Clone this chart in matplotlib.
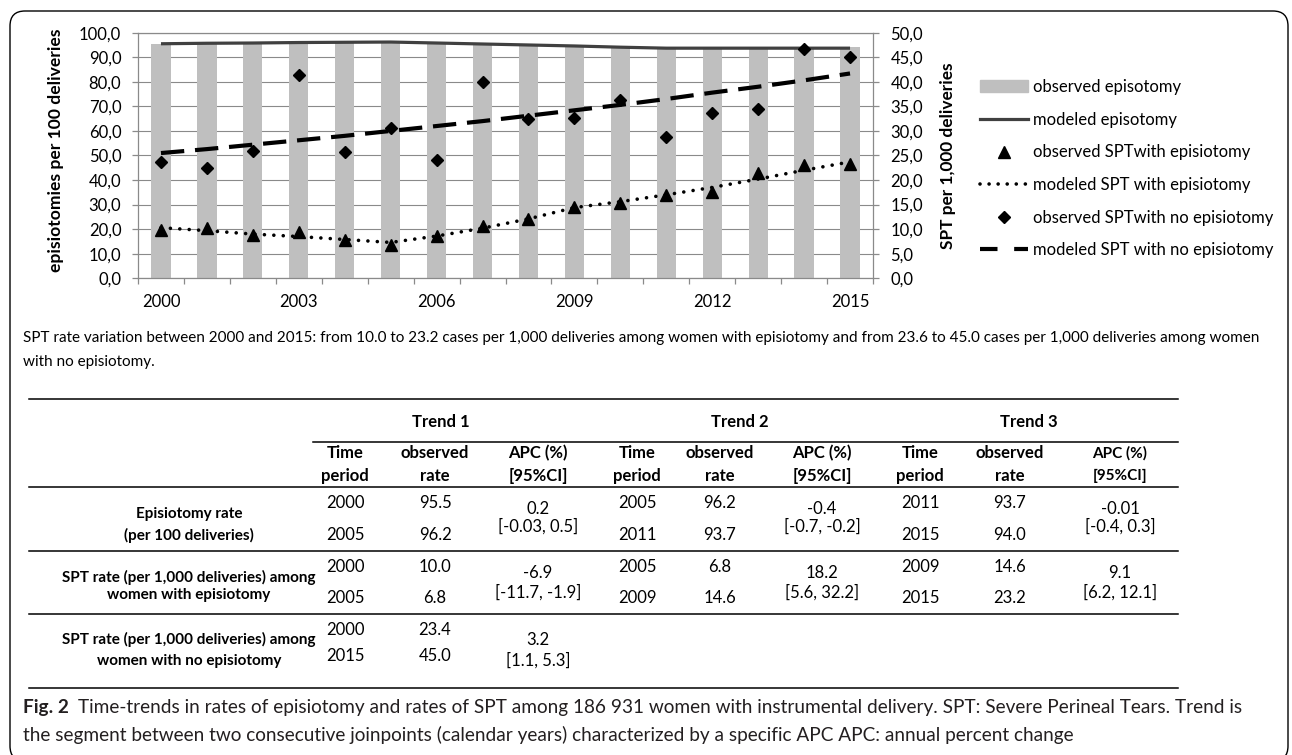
import matplotlib

matplotlib.use("Agg")
import matplotlib.pyplot as plt
from matplotlib.lines import Line2D
from matplotlib.patches import Patch, FancyBboxPatch
from matplotlib.transforms import IdentityTransform
import numpy as np

W, H = 1292, 755
plt.rcParams["font.family"] = ["Lato", "DejaVu Sans"]

# ---- chart data ----
years = list(range(2000, 2016))
observed_epi = [95.5, 95.6, 95.8, 95.9, 96.0, 96.2, 95.7, 95.3, 95.0, 94.6, 94.1, 93.7, 93.8, 93.8, 93.9, 94.2]
modeled_epi = [95.5, 95.7, 95.8, 96.0, 96.1, 96.2, 95.8, 95.4, 95.0, 94.6, 94.1, 93.7, 93.7, 93.7, 93.7, 93.7]
obs_spt_epi = [9.8, 10.2, 8.8, 9.4, 7.7, 6.8, 8.7, 10.6, 12.0, 14.6, 15.3, 17.0, 17.6, 21.4, 23.1, 23.2]
mod_spt_epi = [10.3, 9.7, 9.0, 8.5, 7.9, 7.3, 8.6, 10.2, 12.1, 14.4, 15.6, 17.0, 18.5, 20.2, 22.0, 23.7]
obs_spt_noepi = [23.6, 22.4, 26.0, 41.4, 25.8, 30.7, 24.1, 40.0, 32.4, 32.7, 36.4, 28.8, 33.6, 34.4, 46.6, 45.0]
mod_spt_noepi = [25.5, 26.3, 27.2, 28.1, 29.0, 30.0, 31.0, 32.0, 33.1, 34.2, 35.3, 36.5, 37.8, 39.0, 40.3, 41.7]
year_labels = ["2000", "2003", "2006", "2009", "2012", "2015"]

legend_labels = ["observed episotomy", "modeled episotomy", "observed SPTwith episiotomy",
                 "modeled SPT with episiotomy", "observed SPTwith no episiotomy",
                 "modeled SPT with no episiotomy"]

# ---- table data ----
trend_names = ["Trend 1", "Trend 2", "Trend 3"]
row_labels = [("Episiotomy rate", "(per 100 deliveries)"),
              ("SPT rate (per 1,000 deliveries) among", "women with episiotomy"),
              ("SPT rate (per 1,000 deliveries) among", "women with no episiotomy")]
# per row: list of (period start, period end, rate start, rate end, APC, CI)
table_rows = [
    [("2000", "2005", "95.5", "96.2", "0.2", "[-0.03, 0.5]"),
     ("2005", "2011", "96.2", "93.7", "-0.4", "[-0.7, -0.2]"),
     ("2011", "2015", "93.7", "94.0", "-0.01", "[-0.4, 0.3]")],
    [("2000", "2005", "10.0", "6.8", "-6.9", "[-11.7, -1.9]"),
     ("2005", "2009", "6.8", "14.6", "18.2", "[5.6, 32.2]"),
     ("2009", "2015", "14.6", "23.2", "9.1", "[6.2, 12.1]")],
    [("2000", "2015", "23.4", "45.0", "3.2", "[1.1, 5.3]")],
]

note_lines = ["SPT rate variation between 2000 and 2015: from 10.0 to 23.2 cases per 1,000 deliveries among women "
              "with episiotomy and from 23.6 to 45.0 cases per 1,000 deliveries among women",
              "with no episiotomy."]
caption_bold = "Fig. 2"
caption_lines = ["Time-trends in rates of episiotomy and rates of SPT among 186 931 women with instrumental delivery. "
                 "SPT: Severe Perineal Tears. Trend is",
                 "the segment between two consecutive joinpoints (calendar years) characterized by a specific APC "
                 "APC: annual percent change"]

GRID = "#8a8a8a"
BAR = "#bfbfbf"

fig = plt.figure(figsize=(W / 100, H / 100), dpi=100)


def fx(x):
    return x / W


def fy(y):
    return 1 - y / H


# outer rounded frame
frame = FancyBboxPatch((10, -6), 1278, 755 - 11 + 6, boxstyle="round,pad=0,rounding_size=15",
                       transform=IdentityTransform(), fill=False, ec="black", lw=1.0)
fig.patches.append(frame)

# ---- chart ----
ax_l, ax_r, ax_t, ax_b = 138, 873, 32.7, 278.3
ax = fig.add_axes([fx(ax_l), fy(ax_b), (ax_r - ax_l) / W, (ax_b - ax_t) / H])
ax2 = ax.twinx()

x = np.arange(len(years))
ax.bar(x, observed_epi, width=0.42, color=BAR, zorder=2)
ax.plot(x, modeled_epi, color="#404040", lw=2.3, zorder=3, solid_capstyle="butt")

ax2.plot(x, mod_spt_noepi, color="black", lw=3.0, dashes=(5.6, 2.6), dash_capstyle="butt", zorder=3)
ax2.plot(x, mod_spt_epi, color="black", lw=2.6, linestyle=(0, (0.01, 2.6)), dash_capstyle="round", zorder=3)
ax2.plot(x, obs_spt_epi, ls="none", marker="^", ms=8.5, color="black", zorder=4)
ax2.plot(x, obs_spt_noepi, ls="none", marker="D", ms=6.5, color="black", zorder=4)

ax.set_xlim(-0.5, len(years) - 0.5)
ax.set_ylim(0, 100)
ax2.set_ylim(0, 50)
ax.set_xticks(np.arange(-0.5, len(years), 1))
ax.set_xticklabels([])
ax.set_xticks([years.index(int(s)) for s in year_labels], minor=True)
ax.set_xticklabels(year_labels, minor=True)
ax.tick_params(axis="x", which="major", length=4.5, color=GRID, width=0.9)
ax.tick_params(axis="x", which="minor", length=0, pad=11, labelsize=12)

lt = np.arange(0, 101, 10)
ax.set_yticks(lt)
ax.set_yticklabels([f"{v:.1f}".replace(".", ",") for v in lt])
ax.tick_params(axis="y", length=4.5, color=GRID, width=0.9, pad=7.5, labelsize=12)
rt = np.arange(0, 51, 5)
ax2.set_yticks(rt)
ax2.set_yticklabels([f"{v:.1f}".replace(".", ",") for v in rt])
ax2.tick_params(axis="y", length=4.5, color=GRID, width=0.9, pad=8, labelsize=12)

ax.grid(axis="y", color=GRID, lw=0.8)
ax.set_axisbelow(True)
for s in ["left", "bottom", "top"]:
    ax.spines[s].set_color(GRID)
    ax.spines[s].set_linewidth(0.9)
ax.spines["right"].set_visible(False)
for s in ["left", "bottom", "top"]:
    ax2.spines[s].set_visible(False)
ax2.spines["right"].set_color(GRID)
ax2.spines["right"].set_linewidth(0.9)

ax.set_ylabel("episiotomies per 100 deliveries", fontsize=12.6, fontweight="bold")
ax.yaxis.set_label_coords((64 - ax_l) / (ax_r - ax_l), (ax_b - 150) / (ax_b - ax_t))
ax2.set_ylabel("SPT per 1,000 deliveries", fontsize=12.4, fontweight="bold")
ax2.yaxis.set_label_coords((940 - ax_l) / (ax_r - ax_l), (ax_b - 156) / (ax_b - ax_t))

handles = [
    Patch(color=BAR),
    Line2D([], [], color="#404040", lw=2.3),
    Line2D([], [], ls="none", marker="^", ms=8.5, color="black"),
    Line2D([], [], color="black", lw=2.6, linestyle=(0, (0.01, 2.5)), dash_capstyle="round"),
    Line2D([], [], ls="none", marker="D", ms=6.5, color="black"),
    Line2D([], [], color="black", lw=3.0, dashes=(4.2, 4.0), dash_capstyle="butt"),
]
fig.legend(handles, legend_labels, loc="upper left", bbox_to_anchor=(fx(980), fy(79)),
           bbox_transform=fig.transFigure, frameon=False, fontsize=12, handlelength=2.9,
           handletextpad=0.3, labelspacing=1.0, borderpad=0, borderaxespad=0)

# ---- note ----
for i, line in enumerate(note_lines):
    fig.text(fx(23), fy(338 + i * 24), line, fontsize=11.0, va="center", ha="left")

# ---- table ----
TL, TR = 29, 1178


def hline(y, x0=TL, x1=TR, lw=1.1):
    fig.add_artist(Line2D([fx(x0), fx(x1)], [fy(y), fy(y)], color="black", lw=lw,
                          transform=fig.transFigure))


for y in [399.3, 486.7, 550.7, 614.3, 688.3]:
    hline(y)
hline(441.7, x0=313)

col_time = [345, 637, 920]
col_rate = [435, 720, 1010]
col_apc = [538, 822, 1120]
trend_cx = [441, 740, 1029]
TS = 12
LS = 11

for k in range(3):
    fig.text(fx(trend_cx[k]), fy(421.7), trend_names[k], fontsize=TS, fontweight="bold", ha="center", va="center")
    fig.text(fx(col_time[k]), fy(453), "Time", fontsize=TS, fontweight="bold", ha="center", va="center")
    fig.text(fx(col_time[k]), fy(476), "period", fontsize=TS, fontweight="bold", ha="center", va="center")
    fig.text(fx(col_rate[k]), fy(453), "observed", fontsize=TS, fontweight="bold", ha="center", va="center")
    fig.text(fx(col_rate[k]), fy(476), "rate", fontsize=TS, fontweight="bold", ha="center", va="center")
    apc_fs = TS if k < 2 else TS - 1
    fig.text(fx(col_apc[k]), fy(453), "APC (%)", fontsize=apc_fs, fontweight="bold", ha="center", va="center")
    fig.text(fx(col_apc[k]), fy(476), "[95%CI]", fontsize=apc_fs, fontweight="bold", ha="center", va="center")

row_y = [(503, 535), (567, 598), (630, 656)]
apc_y = [(509, 526), (573, 592), (640, 660)]
label_y = [(514, 535), (577, 595), (639, 661)]
for r, trends in enumerate(table_rows):
    for j, t in enumerate(label_y[r]):
        fig.text(fx(189), fy(t), row_labels[r][j], fontsize=LS, fontweight="bold", ha="center", va="center")
    for k, (p0, p1, v0, v1, apc, ci) in enumerate(trends):
        fig.text(fx(col_time[k]), fy(row_y[r][0]), p0, fontsize=TS, ha="center", va="center")
        fig.text(fx(col_time[k]), fy(row_y[r][1]), p1, fontsize=TS, ha="center", va="center")
        fig.text(fx(col_rate[k]), fy(row_y[r][0]), v0, fontsize=TS, ha="center", va="center")
        fig.text(fx(col_rate[k]), fy(row_y[r][1]), v1, fontsize=TS, ha="center", va="center")
        fig.text(fx(col_apc[k]), fy(apc_y[r][0]), apc, fontsize=TS, ha="center", va="center")
        fig.text(fx(col_apc[k]), fy(apc_y[r][1]), ci, fontsize=TS, ha="center", va="center")

# ---- caption ----
CAP = "#231f20"
CS = 13.7
t0 = fig.text(fx(23), fy(708), caption_bold, fontsize=CS, fontweight="bold", color=CAP, va="center", ha="left")
fig.canvas.draw()
bb = t0.get_window_extent()
fig.text(fx(bb.x1 + 9), fy(708), caption_lines[0], fontsize=CS, color=CAP, va="center", ha="left")
fig.text(fx(23), fy(735), caption_lines[1], fontsize=CS, color=CAP, va="center", ha="left")

fig.savefig("out.png", dpi=100)
